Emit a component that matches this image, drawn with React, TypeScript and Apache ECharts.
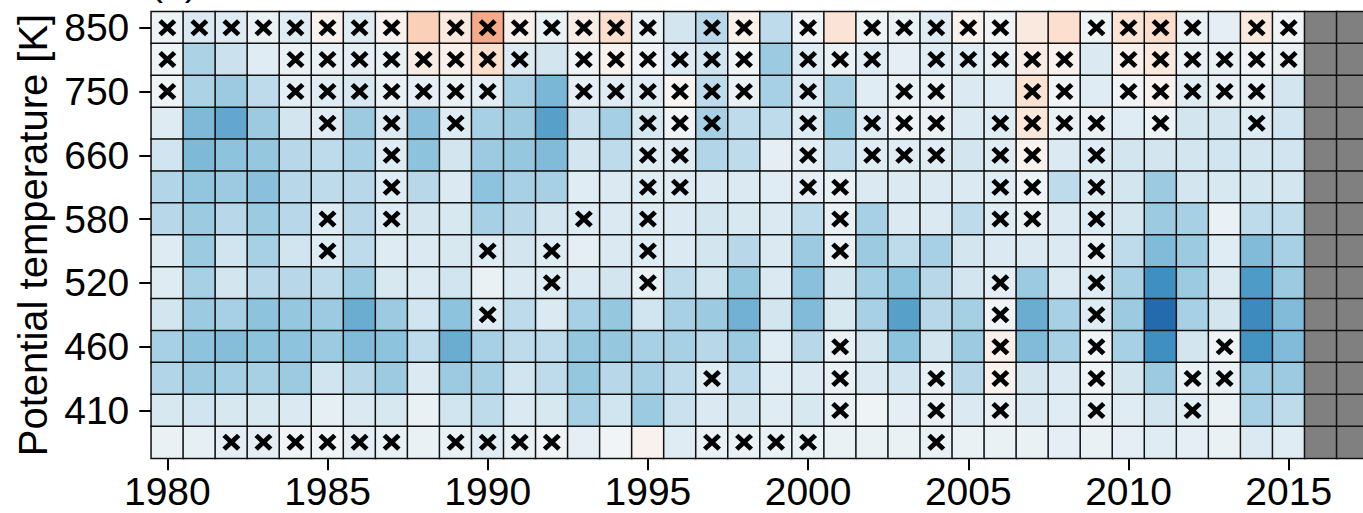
import React, { useEffect, useRef } from "react";
import * as echarts from "echarts";

// Years on the x axis (2016 and 2017 have no data and are drawn grey)
const years = [
  "1980", "1981", "1982", "1983", "1984", "1985", "1986", "1987", "1988", "1989",
  "1990", "1991", "1992", "1993", "1994", "1995", "1996", "1997", "1998", "1999",
  "2000", "2001", "2002", "2003", "2004", "2005", "2006", "2007", "2008", "2009",
  "2010", "2011", "2012", "2013", "2014", "2015", "2016", "2017",
];
const noDataYears = ["2016", "2017"];

// Potential temperature levels, top to bottom
const levels = ["850", "800", "750", "700", "660", "620", "580", "550", "520", "490", "460", "435", "410", "390"];

// Anomaly values per level, 1980..2015
const row850 = [-0.05, -0.15, -0.13, -0.07, -0.12, 0.04, -0.12, 0.04, 0.24, 0.1, 0.38, 0.05, -0.07, 0.08, 0.17, -0.07, -0.19, -0.28, 0.05, -0.26, -0.03, 0.14, -0.05, -0.07, -0.12, 0.04, -0.03, 0.1, 0.17, -0.05, 0.14, 0.18, -0.07, -0.1, 0.1, -0.03];
const row800 = [-0.05, -0.32, -0.22, -0.12, -0.07, -0.07, -0.1, -0.07, 0.08, 0.05, 0.18, -0.13, -0.19, -0.03, 0.04, -0.03, -0.13, -0.2, -0.03, -0.37, -0.12, -0.07, -0.12, -0.1, -0.12, -0.12, -0.07, 0.08, 0.04, -0.15, 0.05, 0.1, -0.07, -0.07, -0.03, -0.07];
const row750 = [-0.04, -0.32, -0.37, -0.26, -0.1, -0.12, -0.17, -0.07, -0.1, -0.07, -0.1, -0.33, -0.46, -0.1, -0.12, -0.12, 0.02, -0.26, -0.07, -0.33, -0.12, -0.33, -0.12, -0.07, -0.07, -0.15, -0.12, 0.15, -0.03, -0.12, -0.03, 0.04, -0.12, -0.07, -0.07, -0.19];
const row700 = [-0.13, -0.45, -0.52, -0.37, -0.19, -0.12, -0.37, -0.13, -0.42, -0.13, -0.33, -0.37, -0.55, -0.23, -0.34, -0.17, -0.04, -0.33, -0.26, -0.26, -0.12, -0.39, -0.12, -0.05, -0.07, -0.15, -0.12, 0.12, -0.07, -0.07, -0.12, -0.05, -0.19, -0.19, -0.12, -0.2];
const row660 = [-0.2, -0.45, -0.41, -0.39, -0.28, -0.26, -0.33, -0.12, -0.41, -0.19, -0.37, -0.39, -0.44, -0.19, -0.26, -0.12, -0.12, -0.3, -0.26, -0.1, -0.1, -0.26, -0.12, -0.12, -0.12, -0.19, -0.12, 0.04, -0.15, -0.12, -0.19, -0.19, -0.19, -0.2, -0.19, -0.2];
const row620 = [-0.3, -0.4, -0.37, -0.42, -0.28, -0.26, -0.28, -0.12, -0.28, -0.15, -0.41, -0.33, -0.33, -0.12, -0.15, -0.12, -0.12, -0.15, -0.15, -0.12, -0.1, -0.07, -0.15, -0.15, -0.15, -0.15, -0.12, -0.05, -0.26, -0.12, -0.19, -0.37, -0.19, -0.17, -0.19, -0.19];
const row580 = [-0.28, -0.37, -0.28, -0.37, -0.28, -0.12, -0.28, -0.12, -0.19, -0.17, -0.33, -0.28, -0.19, -0.12, -0.15, -0.12, -0.15, -0.19, -0.17, -0.15, -0.26, -0.07, -0.33, -0.15, -0.15, -0.26, -0.12, -0.07, -0.15, -0.12, -0.19, -0.37, -0.33, -0.07, -0.26, -0.26];
const row550 = [-0.13, -0.37, -0.2, -0.33, -0.2, -0.12, -0.26, -0.13, -0.15, -0.17, -0.12, -0.19, -0.12, -0.1, -0.15, -0.12, -0.15, -0.19, -0.28, -0.15, -0.37, -0.07, -0.37, -0.26, -0.33, -0.19, -0.15, -0.15, -0.15, -0.07, -0.26, -0.44, -0.37, -0.12, -0.44, -0.33];
const row520 = [-0.13, -0.33, -0.19, -0.28, -0.28, -0.26, -0.37, -0.17, -0.15, -0.2, -0.07, -0.15, -0.12, -0.15, -0.19, -0.07, -0.26, -0.19, -0.39, -0.15, -0.42, -0.19, -0.34, -0.41, -0.28, -0.19, -0.1, -0.37, -0.15, -0.12, -0.33, -0.62, -0.37, -0.15, -0.57, -0.37];
const row490 = [-0.19, -0.37, -0.33, -0.41, -0.39, -0.37, -0.5, -0.37, -0.2, -0.41, -0.12, -0.26, -0.15, -0.33, -0.39, -0.2, -0.33, -0.37, -0.48, -0.19, -0.44, -0.17, -0.33, -0.55, -0.28, -0.34, -0.03, -0.5, -0.33, -0.12, -0.37, -0.78, -0.33, -0.19, -0.64, -0.44];
const row460 = [-0.33, -0.41, -0.43, -0.41, -0.41, -0.37, -0.44, -0.41, -0.26, -0.5, -0.33, -0.26, -0.26, -0.39, -0.39, -0.33, -0.33, -0.28, -0.37, -0.12, -0.28, -0.07, -0.19, -0.41, -0.19, -0.37, 0.05, -0.44, -0.33, -0.03, -0.33, -0.62, -0.19, -0.05, -0.6, -0.44];
const row435 = [-0.3, -0.37, -0.34, -0.33, -0.37, -0.2, -0.28, -0.37, -0.15, -0.37, -0.33, -0.2, -0.26, -0.39, -0.28, -0.33, -0.26, -0.12, -0.26, -0.12, -0.15, -0.07, -0.15, -0.2, -0.07, -0.28, 0.04, -0.19, -0.15, -0.03, -0.19, -0.37, -0.07, -0.07, -0.37, -0.37];
const row410 = [-0.17, -0.2, -0.17, -0.17, -0.15, -0.09, -0.15, -0.17, -0.07, -0.2, -0.26, -0.15, -0.17, -0.33, -0.2, -0.37, -0.22, -0.15, -0.19, -0.12, -0.17, -0.07, -0.05, -0.1, -0.07, -0.15, -0.07, -0.15, -0.12, -0.07, -0.12, -0.19, -0.12, -0.07, -0.33, -0.26];
const row390 = [-0.07, -0.09, -0.1, -0.1, -0.03, -0.03, -0.1, -0.07, -0.07, -0.07, -0.12, -0.07, -0.03, -0.1, -0.03, 0.04, -0.12, -0.07, -0.07, -0.07, -0.07, -0.07, -0.07, -0.07, -0.07, -0.07, -0.07, -0.07, -0.1, -0.07, -0.1, -0.12, -0.1, -0.07, -0.15, -0.12];
const anomalyRows = [row850, row800, row750, row700, row660, row620, row580, row550, row520, row490, row460, row435, row410, row390];

// Non-significant cells ("x"), per level, 1980..2015
const cross850 = "xxxxxxxx.xxxxxxx.xx.x.xxxxx..xxxx.xx";
const cross800 = "x...xxxxxxxx.xxxxxx.xxx.xxxxx.xxxxxx";
const cross750 = "x...xxxxxxx..xxxxxx.x..xx..xx.xxxxx.";
const cross700 = ".....x.x.x.....xxx..x.xxx.xxxx.x..x.";
const cross660 = ".......x.......xx...x.xxx.xx.x......";
const cross620 = ".......x.......xx...xx....xx.x......";
const cross580 = ".....x.x.....x.x.....x....xx.x......";
const cross550 = ".....x....x.x..x.....x.......x......";
const cross520 = "............x..x..........x..x......";
const cross490 = "..........x...............x..x......";
const cross460 = ".....................x....x..x...x..";
const cross435 = ".................x...x..x.x..x..xx..";
const cross410 = ".....................x..x.x..x..x...";
const cross390 = "..xxxxxx.xxxx....xxxx...x...........";
const crossRows = [cross850, cross800, cross750, cross700, cross660, cross620, cross580, cross550, cross520, cross490, cross460, cross435, cross410, cross390];

const RDBU_R = ["#053061", "#2166ac", "#4393c3", "#92c5de", "#d1e5f0", "#f7f7f7", "#fddbc7", "#f4a582", "#d6604d", "#b2182b", "#67001f"];
const FONT = "Liberation Sans, Arial, Helvetica, sans-serif";
const FS = 39;
const CROSS = "path://M0,19 L19,0 L50,31 L81,0 L100,19 L69,50 L100,81 L81,100 L50,69 L19,100 L0,81 L31,50 Z";

export default function App() {
  const ref = useRef<HTMLDivElement>(null);

  useEffect(() => {
    if (!ref.current) return;
    const chart = echarts.init(ref.current, undefined, { renderer: "svg" });

    const heat: [number, number, number][] = [];
    const crosses: [number, number][] = [];
    anomalyRows.forEach((row, li) => {
      row.forEach((v, yi) => heat.push([yi, li, v]));
    });
    crossRows.forEach((s, li) => {
      s.split("").forEach((c, yi) => {
        if (c === "x") crosses.push([yi, li]);
      });
    });
    const grey: [number, number, number][] = [];
    noDataYears.forEach((y) => {
      const yi = years.indexOf(y);
      levels.forEach((_, li) => grey.push([yi, li, 0]));
    });

    chart.setOption({
      animation: false,
      textStyle: { fontFamily: FONT },
      grid: {
        left: 151.3,
        top: 11.7,
        width: 1217.5,
        height: 446.6,
        containLabel: false,
        outerBoundsMode: "none",
      },
      graphic: [
        {
          type: "text",
          x: 150,
          y: -19,
          style: { text: "(a)", font: `${FS}px ${FONT}`, fill: "#000", textVerticalAlign: "middle" },
        },
      ],
      xAxis: {
        type: "category",
        data: years,
        axisLine: { show: false },
        axisTick: { show: true, alignWithLabel: true, interval: 4, length: 12, lineStyle: { color: "#000", width: 2 } },
        axisLabel: { interval: 4, fontSize: FS, color: "#000", margin: 14, fontFamily: FONT },
        splitLine: { show: false },
      },
      yAxis: {
        type: "category",
        data: levels,
        inverse: true,
        axisLine: { show: false },
        axisTick: { show: true, alignWithLabel: true, interval: 1, length: 12, lineStyle: { color: "#000", width: 2 } },
        axisLabel: { interval: 1, fontSize: FS, color: "#000", margin: 22, fontFamily: FONT },
        splitLine: { show: false },
        name: "Potential temperature [K]",
        nameLocation: "middle",
        nameGap: 98,
        nameTextStyle: { fontSize: 40, color: "#000", fontFamily: FONT },
      },
      visualMap: [
        {
          type: "continuous",
          show: false,
          min: -1,
          max: 1,
          seriesIndex: 0,
          dimension: 2,
          inRange: { color: RDBU_R },
        },
        {
          type: "continuous",
          show: false,
          min: -1,
          max: 1,
          seriesIndex: 1,
          dimension: 2,
          inRange: { color: ["#808080", "#808080"] },
        },
      ],
      series: [
        {
          type: "heatmap",
          data: heat,
          itemStyle: { borderColor: "#111", borderWidth: 1.5 },
          emphasis: { disabled: true },
        },
        {
          type: "heatmap",
          data: grey,
          itemStyle: { borderColor: "#111", borderWidth: 1.5 },
          emphasis: { disabled: true },
        },
        {
          type: "scatter",
          data: crosses,
          symbol: CROSS,
          symbolSize: [18, 17],
          itemStyle: { color: "#000", opacity: 1 },
          emphasis: { disabled: true },
          z: 5,
        },
      ],
    });

    return () => chart.dispose();
  }, []);

  return (
    <div
      ref={ref}
      style={{ position: "absolute", left: 0, top: 0, width: 1363, height: 513 }}
    />
  );
}
